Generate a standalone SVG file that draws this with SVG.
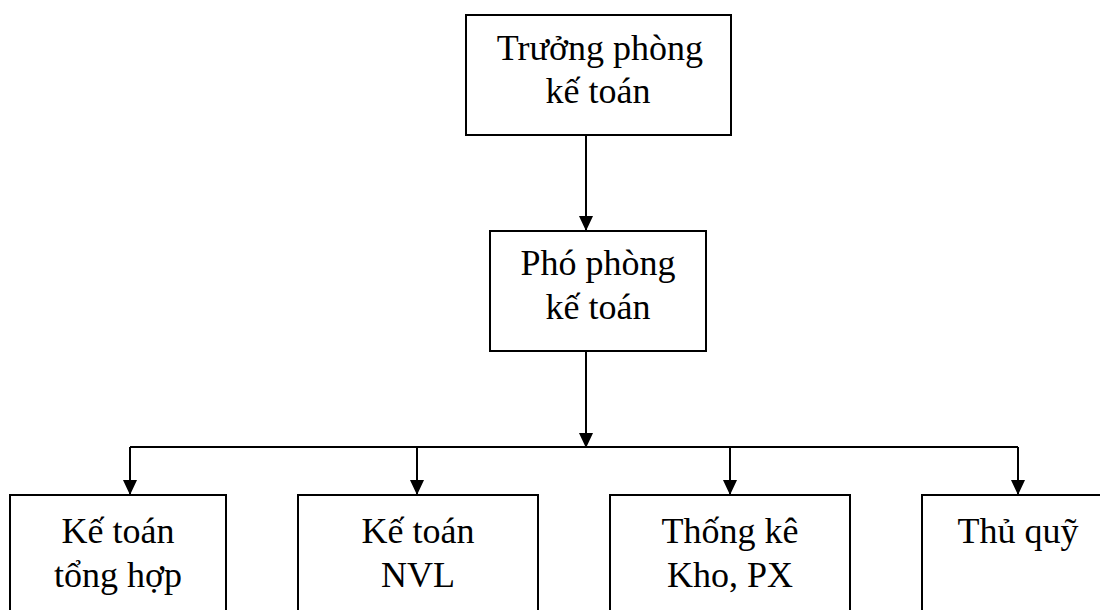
<svg xmlns="http://www.w3.org/2000/svg" width="1100" height="610" viewBox="0 0 1100 610">
  <defs>
    <marker id="arrow" markerWidth="15" markerHeight="14" refX="15" refY="7" orient="auto" markerUnits="userSpaceOnUse">
      <path d="M0,0 L15,7 L0,14 Z" fill="#000"/>
    </marker>
    <style>
      .box { fill: #fff; stroke: #000; stroke-width: 2; }
      .lbl { font-family: "Liberation Serif", "Times New Roman", serif; font-size: 36px; fill: #000; text-anchor: middle; }
      .link { fill: none; stroke: #000; stroke-width: 2; }
    </style>
  </defs>
  <rect width="1100" height="610" fill="#fff"/>

  <g id="connectors">
    <line class="link" x1="586" y1="135" x2="586" y2="231" marker-end="url(#arrow)"/>
    <line class="link" x1="586" y1="351" x2="586" y2="448" marker-end="url(#arrow)"/>
    <polyline class="link" points="130,447 1018,447"/>
    <line class="link" x1="130" y1="447" x2="130" y2="495" marker-end="url(#arrow)"/>
    <line class="link" x1="417" y1="447" x2="417" y2="495" marker-end="url(#arrow)"/>
    <line class="link" x1="730" y1="447" x2="730" y2="495" marker-end="url(#arrow)"/>
    <line class="link" x1="1018" y1="447" x2="1018" y2="495" marker-end="url(#arrow)"/>
  </g>

  <g id="truong-phong">
    <rect class="box" x="466" y="15" width="265" height="120"/>
    <text class="lbl" x="600" y="60">Trưởng phòng</text>
    <text class="lbl" x="598" y="103">kế toán</text>
  </g>

  <g id="pho-phong">
    <rect class="box" x="490" y="231" width="216" height="120"/>
    <text class="lbl" x="598" y="275">Phó phòng</text>
    <text class="lbl" x="598" y="319">kế toán</text>
  </g>

  <g id="ke-toan-tong-hop">
    <rect class="box" x="10" y="495" width="216" height="130"/>
    <text class="lbl" x="118" y="543">Kế toán</text>
    <text class="lbl" x="118" y="587">tổng hợp</text>
  </g>

  <g id="ke-toan-nvl">
    <rect class="box" x="298" y="495" width="240" height="130"/>
    <text class="lbl" x="418" y="543">Kế toán</text>
    <text class="lbl" x="418" y="587">NVL</text>
  </g>

  <g id="thong-ke">
    <rect class="box" x="610" y="495" width="240" height="130"/>
    <text class="lbl" x="730" y="543">Thống kê</text>
    <text class="lbl" x="730" y="587">Kho, PX</text>
  </g>

  <g id="thu-quy">
    <rect class="box" x="922" y="495" width="200" height="130"/>
    <text class="lbl" x="1018" y="543">Thủ quỹ</text>
  </g>
</svg>
